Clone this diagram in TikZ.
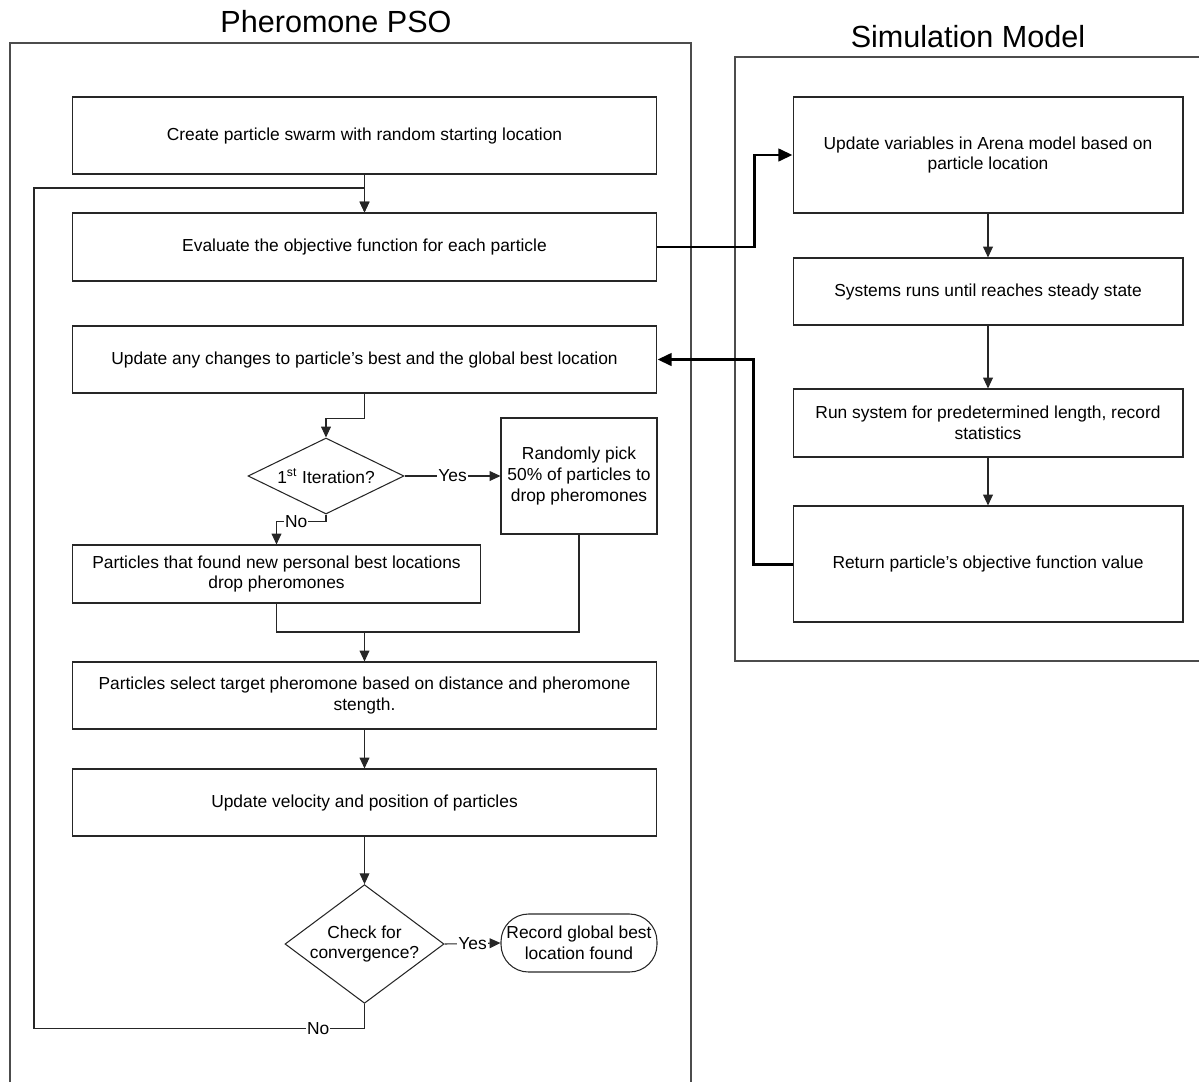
\documentclass[tikz,border=0pt]{standalone}
\usepackage{fontspec}
\setmainfont{Liberation Sans}
\usetikzlibrary{arrows.meta,shapes.geometric}

\tikzset{
    box/.style={draw=black!85, line width=0.6pt, align=center, inner sep=2pt,
        font=\fontsize{9.9}{11.9}\selectfont},
    decision/.style={box, diamond, inner sep=0pt},
    arr/.style={draw=black!85, line width=0.6pt, -{Triangle[length=6.2pt,width=5.6pt]}},
    link/.style={line width=1.7pt, -{Triangle[length=8pt,width=7pt]}},
    lbl/.style={fill=white, inner sep=0.6pt, font=\fontsize{9.9}{11}\selectfont},
    frame/.style={draw=black!70, line width=0.6pt},
    title/.style={font=\fontsize{17.4}{20}\selectfont}
}

\begin{document}
\begin{tikzpicture}[x=0.02cm, y=-0.02cm]

\useasboundingbox (0,0) rectangle (1199,1082);

% Frames and their titles
\draw[frame] (10,1082) -- (10,43) -- (691,43) -- (691,1082);
\draw[frame] (1199,57) -- (735,57) -- (735,661) -- (1199,661);
\node[title] (psotitle) at (336,22) {Pheromone PSO};
\node[title] (simtitle) at (968,37) {Simulation Model};

% Pheromone PSO steps
\node[box, minimum width=11.7cm, minimum height=1.54cm] (create) at (364.5,135.5)
    {Create particle swarm with random starting location};
\node[box, minimum width=11.7cm, minimum height=1.36cm] (evaluate) at (364.5,247)
    {Evaluate the objective function for each particle};
\node[box, minimum width=11.7cm, minimum height=1.34cm] (update) at (364.5,359.5)
    {Update any changes to particle’s best and the global best location};
\node[decision, aspect=2.05, minimum width=3.12cm, minimum height=1.52cm] (iter) at (326,476)
    {1\textsuperscript{st} Iteration?};
\node[box, minimum width=3.12cm, minimum height=2.32cm] (pick) at (579,476)
    {Randomly pick\\50\% of particles to\\drop pheromones};
\node[box, minimum width=8.18cm, minimum height=1.16cm] (found) at (276.5,574)
    {Particles that found new personal best locations\\drop pheromones};
\node[box, minimum width=11.7cm, minimum height=1.34cm] (select) at (364.5,695.5)
    {Particles select target pheromone based on distance and pheromone\\stength.};
\node[box, minimum width=11.7cm, minimum height=1.34cm] (velocity) at (364.5,802.5)
    {Update velocity and position of particles};
\node[decision, aspect=1.34, minimum width=3.1cm, minimum height=2.32cm] (conv) at (364.5,944)
    {Check for\\convergence?};
\node[box, rounded corners=0.55cm, minimum width=3.12cm, minimum height=1.16cm] (record) at (579,943)
    {Record global best\\location found};

% Simulation model steps
\node[box, minimum width=7.8cm, minimum height=2.32cm] (vars) at (988,155)
    {Update variables in Arena model based on\\particle location};
\node[box, minimum width=7.8cm, minimum height=1.34cm] (steady) at (988,291.5)
    {Systems runs until reaches steady state};
\node[box, minimum width=7.8cm, minimum height=1.36cm] (stats) at (988,423)
    {Run system for predetermined length, record\\statistics};
\node[box, minimum width=7.8cm, minimum height=2.32cm] (ret) at (988,564)
    {Return particle’s objective function value};

% Helper points
\coordinate (loop) at (34,188);
\coordinate (merge) at (364.5,632);

% Straight arrows
\foreach \a/\b in {create/evaluate, select/velocity, velocity/conv,
                   vars/steady, steady/stats, stats/ret} {
    \draw[arr] (\a) -- (\b);
}

% Branches
\draw[arr] (update.south) -- ++(0,25) -| (iter.north);
\draw[arr] (iter.east) -- node[lbl] {Yes} (pick.west);
\draw[arr] (iter.south) -- ++(0,7) -| node[lbl, pos=0.3] {No} (found.north);
\draw[draw=black!85, line width=0.6pt] (found.south) |- (merge);
\draw[draw=black!85, line width=0.6pt] (pick.south) |- (merge);
\draw[arr] (merge) -- (select.north);
\draw[arr] (conv.east) -- node[lbl] {Yes} (record.west);
\draw[arr] (conv.south) -- ++(0,25) -| node[lbl, pos=0.07] {No} (loop) -| (evaluate.north);

% Links between the two models
\draw[link] (evaluate.east) -- ++(97,0) |- (vars.west);
\draw[link] (ret.west) -- ++(-39,0) |- (update.east);

\end{tikzpicture}
\end{document}
